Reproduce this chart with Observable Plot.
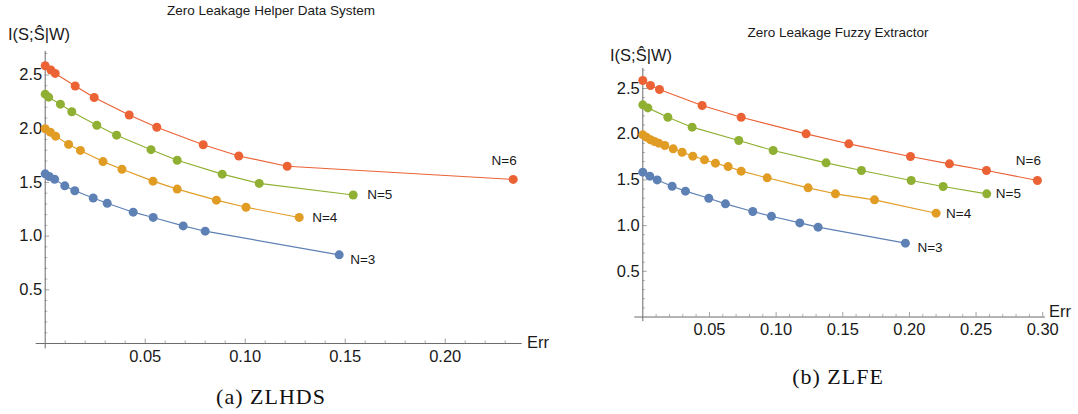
<!DOCTYPE html>
<html><head><meta charset="utf-8">
<script src="https://cdn.jsdelivr.net/npm/d3@7"></script>
<script src="https://cdn.jsdelivr.net/npm/@observablehq/plot@0.6"></script>
<style>
body{margin:0;background:#fff;width:1078px;height:414px;position:relative;overflow:hidden;font-family:"Liberation Sans",Arial,sans-serif;}
.t{position:absolute;white-space:nowrap;color:#1a1a1a;line-height:1;transform:translate(-50%,-50%);}
.l{position:absolute;white-space:nowrap;color:#1a1a1a;line-height:1;transform:translate(0,-50%);}
.cap{position:absolute;white-space:nowrap;color:#111;line-height:1;transform:translate(-50%,-50%);font-family:"Liberation Serif","DejaVu Serif",serif;font-size:22px;letter-spacing:1px;}
</style></head><body>
<div id="pa" style="position:absolute;left:0;top:0"></div>
<div id="pb" style="position:absolute;left:560px;top:0"></div>
<div class="t" style="left:271px;top:11px;font-size:13.5px;">Zero Leakage Helper Data System</div>
<div class="l" style="left:8px;top:34px;font-size:16.5px;">I(S;Ŝ|W)</div>
<div class="l" style="left:527px;top:342px;font-size:16.5px;">Err</div>
<div class="cap" style="left:271px;top:397px;">(a) ZLHDS</div>
<div class="t" style="left:838px;top:33px;font-size:13.5px;">Zero Leakage Fuzzy Extractor</div>
<div class="l" style="left:610px;top:55px;font-size:16.5px;">I(S;Ŝ|W)</div>
<div class="l" style="left:1049px;top:311px;font-size:16.5px;">Err</div>
<div class="cap" style="left:838px;top:377px;">(b) ZLFE</div>
<script>
// ---------- series ----------
const seriesNames = ["N=3", "N=4", "N=5", "N=6"];
const seriesColors = ["#5E81B5", "#E19C24", "#8FB032", "#EB6235"];

// ---------- data: (a) ZLHDS ----------
const errA_N3 = [0, 0.002, 0.0047, 0.0098, 0.0148, 0.024, 0.031, 0.044, 0.054, 0.069, 0.080, 0.147];
const infA_N3 = [1.58, 1.555, 1.53, 1.468, 1.422, 1.355, 1.306, 1.223, 1.174, 1.095, 1.046, 0.826];
const errA_N4 = [0, 0.0026, 0.0052, 0.0117, 0.0176, 0.0289, 0.0384, 0.0539, 0.066, 0.0856, 0.1004, 0.127];
const infA_N4 = [2.0, 1.968, 1.931, 1.854, 1.798, 1.694, 1.623, 1.512, 1.438, 1.335, 1.269, 1.174];
const errA_N5 = [0, 0.0017, 0.0076, 0.0133, 0.0258, 0.0357, 0.0529, 0.066, 0.0885, 0.107, 0.154];
const infA_N5 = [2.322, 2.294, 2.229, 2.158, 2.032, 1.94, 1.805, 1.706, 1.577, 1.491, 1.383];
const errA_N6 = [0, 0.0029, 0.005, 0.015, 0.0245, 0.042, 0.0558, 0.079, 0.0968, 0.121, 0.234];
const infA_N6 = [2.586, 2.546, 2.515, 2.398, 2.291, 2.128, 2.014, 1.851, 1.746, 1.651, 1.528];

// ---------- data: (b) ZLFE ----------
const errB_N3 = [0, 0.00525, 0.0108, 0.022, 0.032, 0.0495, 0.062, 0.0825, 0.0965, 0.1178, 0.1315, 0.197];
const infB_N3 = [1.585, 1.541, 1.50, 1.431, 1.377, 1.30, 1.238, 1.154, 1.103, 1.03, 0.983, 0.808];
const errB_N4 = [0, 0.00275, 0.0058, 0.0088, 0.012, 0.0165, 0.0228, 0.0295, 0.0375, 0.0463, 0.0545, 0.064, 0.0738, 0.0933, 0.124, 0.1445, 0.1738, 0.22];
const infB_N4 = [1.993, 1.968, 1.939, 1.92, 1.902, 1.876, 1.84, 1.803, 1.76, 1.72, 1.683, 1.646, 1.596, 1.523, 1.413, 1.348, 1.282, 1.136];
const errB_N5 = [0, 0.0038, 0.0188, 0.037, 0.072, 0.0978, 0.1375, 0.164, 0.2013, 0.2253, 0.258];
const infB_N5 = [2.321, 2.288, 2.186, 2.077, 1.931, 1.822, 1.687, 1.603, 1.494, 1.428, 1.348];
const errB_N6 = [0, 0.00575, 0.0125, 0.0445, 0.0738, 0.1225, 0.1545, 0.2008, 0.230, 0.2578, 0.296];
const infB_N6 = [2.588, 2.533, 2.489, 2.314, 2.186, 2.004, 1.895, 1.756, 1.676, 1.603, 1.494];

// ---------- ticks ----------
const xTicksA = [0.05, 0.10, 0.15, 0.20];
const xTickLabelsA = ["0.05", "0.10", "0.15", "0.20"];
const xTicksB = [0.05, 0.10, 0.15, 0.20, 0.25, 0.30];
const xTickLabelsB = ["0.05", "0.10", "0.15", "0.20", "0.25", "0.30"];
const yTicks = [0.5, 1.0, 1.5, 2.0, 2.5];
const yTickLabels = ["0.5", "1.0", "1.5", "2.0", "2.5"];
const xMinorA = d3.range(1, 24).map(i => i / 100).filter(v => !xTicksA.some(t => Math.abs(t - v) < 1e-9));
const xMinorB = d3.range(1, 30).map(i => i / 100).filter(v => !xTicksB.some(t => Math.abs(t - v) < 1e-9));
const yMinor = d3.range(1, 28).map(i => i / 10).filter(v => !yTicks.some(t => Math.abs(t - v) < 1e-9));

function rows(errs, infs) {
  const out = [];
  seriesNames.forEach((n, k) => errs[k].forEach((e, i) => out.push({N: n, err: e, inf: infs[k][i]})));
  return out;
}

function panel(cfg) {
  const data = rows(cfg.errs, cfg.infs);
  const last = seriesNames.map((n, k) => {
    const e = cfg.errs[k], v = cfg.infs[k];
    return {N: n, err: e[e.length - 1], inf: v[v.length - 1]};
  });
  const W = cfg.width, H = cfg.height, m = cfg.margin;
  const pxX = (W - m.left - m.right) / (cfg.xDomain[1] - cfg.xDomain[0]);
  const pxY = (H - m.top - m.bottom) / (cfg.yDomain[1] - cfg.yDomain[0]);
  const axisCol = "#6b6b6b", tickCol = "#9a9a9a";
  const fs = 16.5;
  return Plot.plot({
    width: W, height: H,
    marginLeft: m.left, marginRight: m.right, marginTop: m.top, marginBottom: m.bottom,
    x: {domain: cfg.xDomain, axis: null},
    y: {domain: cfg.yDomain, axis: null},
    color: {domain: seriesNames, range: seriesColors},
    style: {fontFamily: "'Liberation Sans', Arial, sans-serif", background: "transparent", overflow: "visible"},
    marks: [
      Plot.ruleX(cfg.xMinor, {x: d => d, y1: 0, y2: 2.6 / pxY, stroke: tickCol, strokeWidth: 0.8}),
      Plot.ruleX(cfg.xTicks, {x: d => d, y1: 0, y2: 4.5 / pxY, stroke: tickCol, strokeWidth: 0.9}),
      Plot.ruleY(yMinor, {y: d => d, x1: 0, x2: 2.6 / pxX, stroke: tickCol, strokeWidth: 0.8}),
      Plot.ruleY(yTicks, {y: d => d, x1: 0, x2: 4.5 / pxX, stroke: tickCol, strokeWidth: 0.9}),
      Plot.ruleY([0], {x1: cfg.xDomain[0], x2: cfg.xDomain[1], stroke: axisCol, strokeWidth: 1}),
      Plot.ruleX([0], {y1: cfg.yDomain[0], y2: cfg.yDomain[1], stroke: axisCol, strokeWidth: 1}),
      Plot.text(cfg.xTicks, {x: d => d, y: 0, text: (d, i) => cfg.xLabels[i], dy: 13, fontSize: fs, fill: "#1a1a1a"}),
      Plot.text(yTicks, {x: 0, y: d => d, text: (d, i) => yTickLabels[i], dx: -3, textAnchor: "end", fontSize: fs, fill: "#1a1a1a"}),
      Plot.line(data, {x: "err", y: "inf", z: "N", stroke: "N", strokeWidth: 1.15}),
      Plot.dot(data, {x: "err", y: "inf", fill: "N", r: 4.5, stroke: "none"}),
      ...last.map((d, k) => Plot.text([d], {x: "err", y: "inf", text: "N", fontSize: 13.5, fill: "#1a1a1a",
        dx: cfg.labelOff[k][0], dy: cfg.labelOff[k][1], textAnchor: cfg.labelOff[k][2]}))
    ]
  });
}

const plotA = panel({
  errs: [errA_N3, errA_N4, errA_N5, errA_N6], infs: [infA_N3, infA_N4, infA_N5, infA_N6],
  width: 560, height: 372,
  margin: {left: 35.7, right: 38.3, top: 50.9, bottom: 23.6},
  xDomain: [-0.0045, 0.2385], yDomain: [-0.05, 2.72],
  xTicks: xTicksA, xLabels: xTickLabelsA, xMinor: xMinorA,
  labelOff: [[11, 5, "start"], [13, 0, "start"], [14, 0, "start"], [-9, -19, "middle"]]
});
const plotB = panel({
  errs: [errB_N3, errB_N4, errB_N5, errB_N6], infs: [infB_N3, infB_N4, infB_N5, infB_N6],
  width: 518, height: 372,
  margin: {left: 74.3, right: 33.1, top: 67.9, bottom: 50.9},
  xDomain: [-0.006, 0.302], yDomain: [-0.05, 2.72],
  xTicks: xTicksB, xLabels: xTickLabelsB, xMinor: xMinorB,
  labelOff: [[12, 4, "start"], [10, 0, "start"], [9, 0, "start"], [-9, -20, "middle"]]
});
document.getElementById("pa").appendChild(plotA);
document.getElementById("pb").appendChild(plotB);
</script>
</body></html>
